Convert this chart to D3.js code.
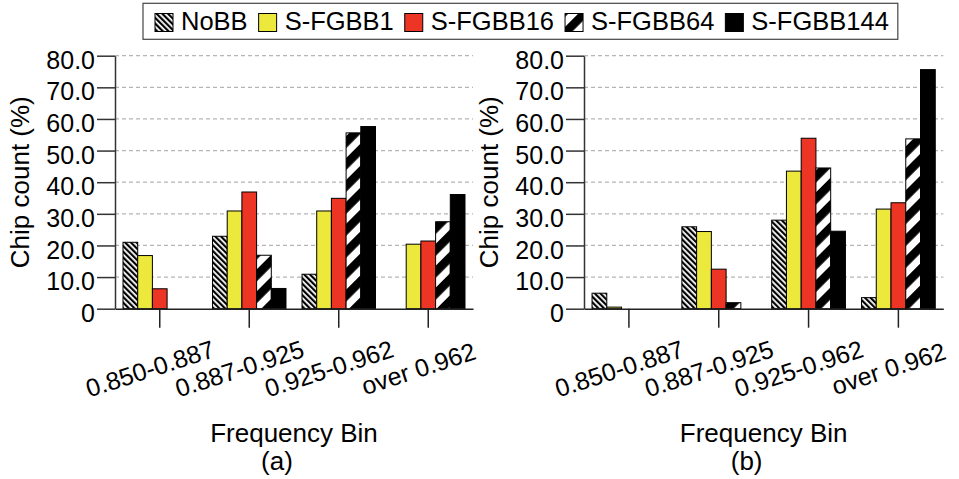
<!DOCTYPE html>
<html>
<head>
<meta charset="utf-8">
<script src="https://cdn.jsdelivr.net/npm/d3@7"></script>
<style>
  html, body { margin: 0; padding: 0; background: #fff; }
  svg { display: block; font-family: "Liberation Sans", Arial, Helvetica, sans-serif; }
</style>
</head>
<body>
<svg id="chart" width="959" height="479"></svg>
<script>
// Frequency bins and bias schemes
const categories = ["0.850-0.887", "0.887-0.925", "0.925-0.962", "over 0.962"];
const seriesNames = ["NoBB", "S-FGBB1", "S-FGBB16", "S-FGBB64", "S-FGBB144"];

// Panel (a): chip count (%) per bin
const noBB_a     = [21.0, 22.9, 10.9, 0];
const fgbb1_a    = [16.8, 30.9, 30.9, 20.4];
const fgbb16_a   = [6.3, 36.9, 34.9, 21.4];
const fgbb64_a   = [0, 16.9, 55.6, 27.5];
const fgbb144_a  = [0, 6.4, 57.6, 36.1];

// Panel (b): chip count (%) per bin
const noBB_b     = [4.9, 25.9, 28.0, 3.5];
const fgbb1_b    = [0.5, 24.4, 43.5, 31.5];
const fgbb16_b   = [0, 12.5, 53.9, 33.5];
const fgbb64_b   = [0, 1.9, 44.5, 53.7];
const fgbb144_b  = [0, 0, 24.5, 75.6];

// Y axis ticks
const yTicks = [0, 10, 20, 30, 40, 50, 60, 70, 80];
const yTickLabels = ["0", "10.0", "20.0", "30.0", "40.0", "50.0", "60.0", "70.0", "80.0"];

const svg = d3.select("#chart");
const defs = svg.append("defs");

// Diagonal hatch for NoBB
const hatch = defs.append("pattern")
  .attr("id", "pat-nobb")
  .attr("patternUnits", "userSpaceOnUse")
  .attr("width", 4).attr("height", 10)
  .attr("patternTransform", "rotate(-45)");
hatch.append("rect").attr("width", 4).attr("height", 10).attr("fill", "#fff");
hatch.append("rect").attr("width", 2.2).attr("height", 10).attr("fill", "#000");

// Wide black/white stripes for S-FGBB64
const stripe = defs.append("pattern")
  .attr("id", "pat-fgbb64")
  .attr("patternUnits", "userSpaceOnUse")
  .attr("width", 15.5).attr("height", 20)
  .attr("patternTransform", "rotate(45)");
stripe.append("rect").attr("width", 15.5).attr("height", 20).attr("fill", "#000");
stripe.append("rect").attr("x", 8.5).attr("width", 7).attr("height", 20).attr("fill", "#fff");

const fills = ["url(#pat-nobb)", "#ece93c", "#ec3524", "url(#pat-fgbb64)", "#000"];

const y = d3.scaleLinear().domain([0, 80]).range([308.7, 55.7]);

function drawPanel(left, right, series, caption) {
  const g = svg.append("g");

  const x = d3.scaleBand().domain(categories).range([left, right]).paddingInner(0).paddingOuter(0);
  const xs = d3.scaleBand().domain(seriesNames).range([0, x.bandwidth()])
    .paddingInner(0).paddingOuter(0.545);

  // dashed grid
  g.append("g").selectAll("line")
    .data(yTicks.filter(t => t > 0))
    .join("line")
    .attr("x1", left).attr("x2", right)
    .attr("y1", d => y(d)).attr("y2", d => y(d))
    .attr("stroke", "#b5b5b5").attr("stroke-width", 1.2)
    .attr("stroke-dasharray", "4,3");

  // bars
  const rows = categories.map((c, i) => seriesNames.map((s, j) => ({ c, s, j, v: series[j][i] })));
  g.append("g").selectAll("g")
    .data(rows)
    .join("g")
    .selectAll("rect")
    .data(d => d)
    .join("rect")
    .attr("x", d => x(d.c) + xs(d.s))
    .attr("y", d => y(d.v))
    .attr("width", xs.bandwidth())
    .attr("height", d => y(0) - y(d.v))
    .attr("fill", d => fills[d.j])
    .attr("stroke", "#000")
    .attr("stroke-width", 1);

  // y axis
  const yAxis = g.append("g")
    .attr("transform", `translate(${left},0)`)
    .call(d3.axisLeft(y).tickValues(yTicks).tickSize(18).tickSizeOuter(0).tickPadding(2)
      .tickFormat((d, i) => yTickLabels[i]));
  yAxis.select(".domain").attr("stroke", "#333").attr("stroke-width", 1.5);
  yAxis.selectAll(".tick line").attr("stroke", "#333").attr("stroke-width", 1.5);
  yAxis.selectAll(".tick text")
    .attr("fill", "#000").attr("font-size", 25)
    .attr("font-family", "Liberation Sans, Arial, sans-serif")
    .attr("dy", 12.6);

  // x axis
  const xAxis = g.append("g")
    .attr("transform", `translate(0,${y(0)})`)
    .call(d3.axisBottom(x).tickSize(19).tickSizeOuter(0).tickFormat(""));
  xAxis.select(".domain").attr("stroke", "#222").attr("stroke-width", 1.5);
  xAxis.selectAll(".tick line").attr("stroke", "#222").attr("stroke-width", 1.5);

  // rotated bin labels
  g.append("g").selectAll("text")
    .data(categories)
    .join("text")
    .attr("transform", d => `translate(${x(d) + x.bandwidth() / 2 - 7},377) rotate(-18)`)
    .attr("text-anchor", "middle")
    .attr("font-size", 25)
    .attr("fill", "#000")
    .text(d => d);

  // axis titles
  g.append("text")
    .attr("class", "ytitle")
    .attr("transform", `translate(${left - 86},${(y(0) + y(80)) / 2}) rotate(-90)`)
    .attr("text-anchor", "middle")
    .attr("font-size", 26)
    .attr("fill", "#000")
    .text("Chip count (%)");

  const cx = (left + right) / 2;
  g.append("text")
    .attr("x", cx).attr("y", 441.7)
    .attr("text-anchor", "middle")
    .attr("font-size", 26)
    .attr("fill", "#000")
    .text("Frequency Bin");

  g.append("text")
    .attr("x", cx - 17).attr("y", 469.5)
    .attr("text-anchor", "middle")
    .attr("font-size", 26)
    .attr("fill", "#000")
    .text(caption);

  return g;
}

drawPanel(115, 473, [noBB_a, fgbb1_a, fgbb16_a, fgbb64_a, fgbb144_a], "(a)");
drawPanel(584, 943.3, [noBB_b, fgbb1_b, fgbb16_b, fgbb64_b, fgbb144_b], "(b)");

// shared legend
const legend = svg.append("g");
const box = legend.append("rect")
  .attr("y", 3.3).attr("height", 36)
  .attr("fill", "#fff").attr("stroke", "#444").attr("stroke-width", 1.2);

let lx = 155;
seriesNames.forEach((name, j) => {
  legend.append("rect")
    .attr("x", lx).attr("y", 13.5).attr("width", 18).attr("height", 18)
    .attr("fill", fills[j]).attr("stroke", "#000").attr("stroke-width", 1);
  const t = legend.append("text")
    .attr("x", lx + 26).attr("y", 29.5)
    .attr("font-size", 25.5)
    .attr("fill", "#000")
    .text(name);
  lx = lx + 26 + t.node().getComputedTextLength() + 11;
});
box.attr("x", 143).attr("width", lx - 2 - 143);
</script>
</body>
</html>
